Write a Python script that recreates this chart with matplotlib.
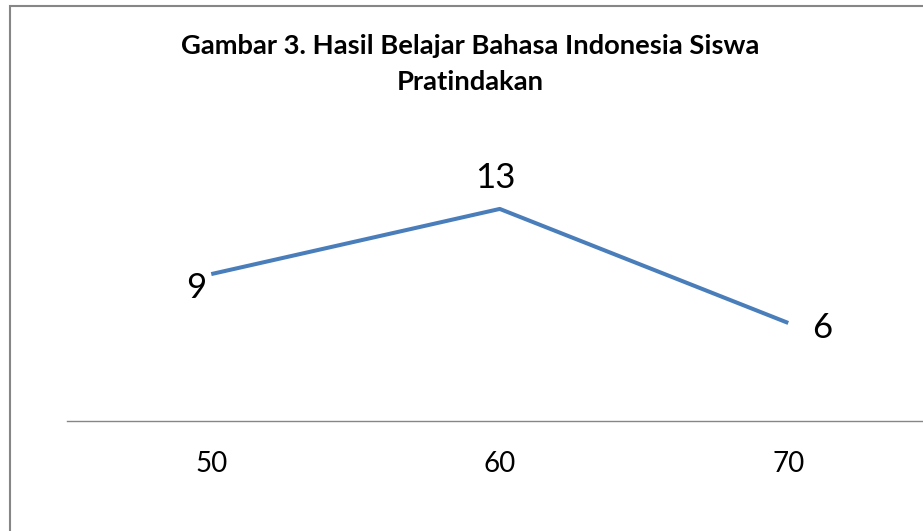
import matplotlib
matplotlib.use("Agg")
import matplotlib.pyplot as plt
from matplotlib.patches import Rectangle

# data
categories = ["50", "60", "70"]
values = [9, 13, 6]
title = "Gambar 3. Hasil Belajar Bahasa Indonesia Siswa\nPratindakan"

W, H, DPI = 923, 531, 100
plt.rcParams["font.family"] = ["Lato", "DejaVu Sans"]

fig = plt.figure(figsize=(W / DPI, H / DPI), dpi=DPI)

# chart border (cropped on the right and bottom in the reference)
fig.add_artist(Rectangle((9.5 / W, -0.1), 1.2, (H - 5.7) / H + 0.1,
                         transform=fig.transFigure, fill=False,
                         edgecolor="#868686", linewidth=1.5))

# plot area in pixels: x 67 -> 932.5, y(0) at 421 from top, 16.29 px per unit
ax = fig.add_axes([67 / W, (H - 420.7) / H, 865.5 / W, 14 * 16.29 / H])
x = list(range(len(categories)))
ax.plot(x, values, color="#4A7EBB", linewidth=2.9, solid_capstyle="butt")
ax.set_xlim(-0.5, len(categories) - 0.5)
ax.set_ylim(0, 14)

for s in ["top", "right", "left"]:
    ax.spines[s].set_visible(False)
ax.spines["bottom"].set_color("#868686")
ax.spines["bottom"].set_linewidth(1.0)
ax.set_yticks([])
ax.set_xticks(x, categories)
ax.tick_params(axis="x", length=0, pad=22, labelsize=20)

# data labels: (ha, offset in points)
label_pos = [("right", (-3.6, -17.3)), ("center", (-3.2, 15.1)), ("left", (17.3, -10.8))]
for xi, v, (ha, off) in zip(x, values, label_pos):
    ax.annotate(str(v), (xi, v), xytext=off, textcoords="offset points",
                ha=ha, va="baseline", fontsize=25)

# baseline of the last title line sits at y=90 px from the top
fig.text(470 / W, (H - 90) / H, title, ha="center", va="baseline",
         fontsize=19.7, fontweight="bold", linespacing=1.6)

fig.savefig("out.png", dpi=DPI)
